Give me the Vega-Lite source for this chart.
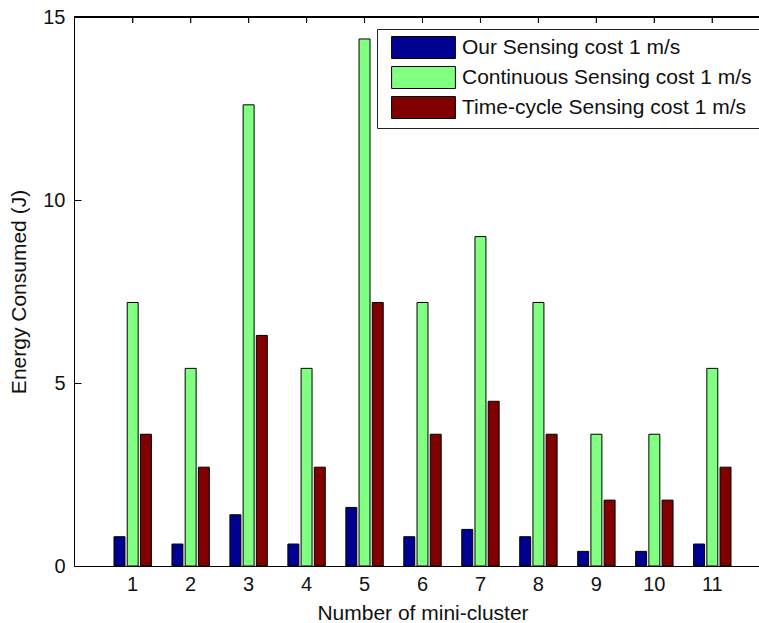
{
  "$schema": "https://vega.github.io/schema/vega-lite/v6.json",
  "width": 685,
  "height": 549,
  "autosize": {"type": "none"},
  "padding": {"left": 74, "top": 17, "right": 0, "bottom": 57},
  "background": "white",
  "config": {
    "view": {"stroke": null},
    "font": "Liberation Sans",
    "axis": {
      "labelFont": "Liberation Sans",
      "titleFont": "Liberation Sans",
      "labelFontSize": 20,
      "titleFontSize": 21,
      "titleFontWeight": "normal",
      "labelColor": "#111",
      "titleColor": "#111",
      "domainColor": "#000",
      "tickColor": "#000",
      "grid": false
    }
  },
  "data": {
    "values": [
      {"cluster": 1, "series": "Our Sensing cost 1 m/s", "energy": 0.8},
      {"cluster": 1, "series": "Continuous Sensing cost 1 m/s", "energy": 7.2},
      {"cluster": 1, "series": "Time-cycle Sensing cost 1 m/s", "energy": 3.6},
      {"cluster": 2, "series": "Our Sensing cost 1 m/s", "energy": 0.6},
      {"cluster": 2, "series": "Continuous Sensing cost 1 m/s", "energy": 5.4},
      {"cluster": 2, "series": "Time-cycle Sensing cost 1 m/s", "energy": 2.7},
      {"cluster": 3, "series": "Our Sensing cost 1 m/s", "energy": 1.4},
      {"cluster": 3, "series": "Continuous Sensing cost 1 m/s", "energy": 12.6},
      {"cluster": 3, "series": "Time-cycle Sensing cost 1 m/s", "energy": 6.3},
      {"cluster": 4, "series": "Our Sensing cost 1 m/s", "energy": 0.6},
      {"cluster": 4, "series": "Continuous Sensing cost 1 m/s", "energy": 5.4},
      {"cluster": 4, "series": "Time-cycle Sensing cost 1 m/s", "energy": 2.7},
      {"cluster": 5, "series": "Our Sensing cost 1 m/s", "energy": 1.6},
      {"cluster": 5, "series": "Continuous Sensing cost 1 m/s", "energy": 14.4},
      {"cluster": 5, "series": "Time-cycle Sensing cost 1 m/s", "energy": 7.2},
      {"cluster": 6, "series": "Our Sensing cost 1 m/s", "energy": 0.8},
      {"cluster": 6, "series": "Continuous Sensing cost 1 m/s", "energy": 7.2},
      {"cluster": 6, "series": "Time-cycle Sensing cost 1 m/s", "energy": 3.6},
      {"cluster": 7, "series": "Our Sensing cost 1 m/s", "energy": 1.0},
      {"cluster": 7, "series": "Continuous Sensing cost 1 m/s", "energy": 9.0},
      {"cluster": 7, "series": "Time-cycle Sensing cost 1 m/s", "energy": 4.5},
      {"cluster": 8, "series": "Our Sensing cost 1 m/s", "energy": 0.8},
      {"cluster": 8, "series": "Continuous Sensing cost 1 m/s", "energy": 7.2},
      {"cluster": 8, "series": "Time-cycle Sensing cost 1 m/s", "energy": 3.6},
      {"cluster": 9, "series": "Our Sensing cost 1 m/s", "energy": 0.4},
      {"cluster": 9, "series": "Continuous Sensing cost 1 m/s", "energy": 3.6},
      {"cluster": 9, "series": "Time-cycle Sensing cost 1 m/s", "energy": 1.8},
      {"cluster": 10, "series": "Our Sensing cost 1 m/s", "energy": 0.4},
      {"cluster": 10, "series": "Continuous Sensing cost 1 m/s", "energy": 3.6},
      {"cluster": 10, "series": "Time-cycle Sensing cost 1 m/s", "energy": 1.8},
      {"cluster": 11, "series": "Our Sensing cost 1 m/s", "energy": 0.6},
      {"cluster": 11, "series": "Continuous Sensing cost 1 m/s", "energy": 5.4},
      {"cluster": 11, "series": "Time-cycle Sensing cost 1 m/s", "energy": 2.7}
    ]
  },
  "layer": [
    {
      "mark": {"type": "bar", "stroke": "black", "strokeWidth": 1},
      "encoding": {
        "x": {
          "field": "cluster",
          "type": "ordinal",
          "scale": {
            "type": "band",
            "domain": [1, 2, 3, 4, 5, 6, 7, 8, 9, 10, 11],
            "range": [0, 697],
            "paddingInner": 0.355,
            "paddingOuter": 0.69
          },
          "axis": {
            "orient": "bottom",
            "title": "Number of mini-cluster",
            "labelAngle": 0,
            "tickSize": -6,
            "labelPadding": 14,
            "titlePadding": 8
          }
        },
        "xOffset": {
          "field": "series",
          "type": "nominal",
          "scale": {
            "domain": ["Our Sensing cost 1 m/s", "Continuous Sensing cost 1 m/s", "Time-cycle Sensing cost 1 m/s"],
            "paddingInner": 0.17,
            "paddingOuter": 0
          }
        },
        "y": {
          "field": "energy",
          "type": "quantitative",
          "scale": {"domain": [0, 15], "nice": false},
          "axis": {
            "values": [0, 5, 10, 15],
            "title": "Energy Consumed (J)",
            "tickSize": -7,
            "tickWidth": 1,
            "labelPadding": 16,
            "titlePadding": 13
          }
        },
        "color": {
          "field": "series",
          "type": "nominal",
          "scale": {
            "domain": ["Our Sensing cost 1 m/s", "Continuous Sensing cost 1 m/s", "Time-cycle Sensing cost 1 m/s"],
            "range": ["#000090", "#80ff80", "#800000"]
          },
          "legend": {
            "orient": "none",
            "legendX": 303,
            "legendY": 12,
            "title": null,
            "symbolType": "M-2.9,-1H2.9V1H-2.9Z",
            "symbolSize": 484,
            "symbolStrokeColor": "black",
            "symbolStrokeWidth": 1,
            "symbolOpacity": 1,
            "symbolOffset": 28,
            "labelOffset": 27,
            "labelFont": "Liberation Sans",
            "labelFontSize": 21,
            "labelColor": "#111",
            "labelLimit": 400,
            "rowPadding": 3,
            "padding": 7,
            "strokeColor": "#222",
            "fillColor": "white"
          }
        }
      }
    },
    {
      "mark": {"type": "tick", "orient": "vertical", "clip": true, "size": 12, "thickness": 1, "color": "black"},
      "encoding": {
        "x": {"field": "cluster", "type": "ordinal"},
        "y": {"datum": 15}
      }
    },
    {
      "mark": {"type": "rule", "color": "black", "strokeWidth": 1},
      "encoding": {
        "y": {"datum": 15}
      }
    }
  ]
}
